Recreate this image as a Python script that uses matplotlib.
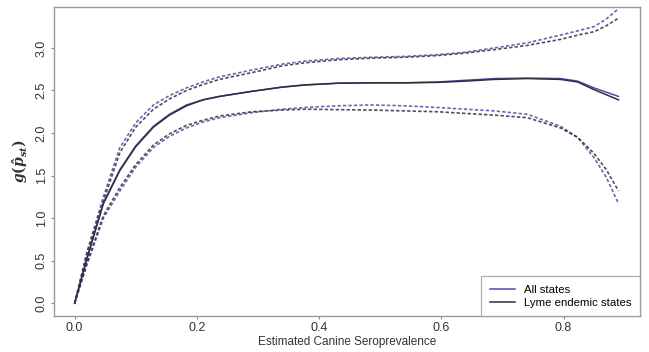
import matplotlib
matplotlib.use("Agg")
import matplotlib.pyplot as plt

plt.rcParams['font.family'] = ['Liberation Sans', 'DejaVu Sans']
plt.rcParams['mathtext.fontset'] = 'custom'
plt.rcParams['mathtext.it'] = 'DejaVu Serif:italic:bold'
plt.rcParams['mathtext.rm'] = 'DejaVu Serif:bold'

# estimated canine seroprevalence grid
x = [0, 0.02, 0.047, 0.074, 0.1, 0.129, 0.155, 0.183, 0.21, 0.237, 0.29, 0.34,
     0.377, 0.43, 0.486, 0.54, 0.594, 0.64, 0.687, 0.741, 0.795, 0.823, 0.85, 0.87, 0.89]

# fitted curves
fit_lyme = [0, 0.52, 1.17, 1.56, 1.84, 2.07, 2.21, 2.32, 2.39, 2.43, 2.49, 2.54,
            2.565, 2.585, 2.59, 2.59, 2.595, 2.61, 2.63, 2.64, 2.63, 2.60, 2.51, 2.45, 2.39]
fit_all = [0, 0.53, 1.18, 1.57, 1.85, 2.08, 2.22, 2.33, 2.39, 2.43, 2.49, 2.54,
           2.565, 2.585, 2.59, 2.59, 2.60, 2.62, 2.64, 2.645, 2.64, 2.61, 2.53, 2.48, 2.43]

# confidence bands
upper_all = [0, 0.6, 1.25, 1.83, 2.12, 2.33, 2.44, 2.53, 2.60, 2.66, 2.74, 2.81,
             2.845, 2.875, 2.89, 2.90, 2.92, 2.95, 3.00, 3.06, 3.15, 3.20, 3.25, 3.34, 3.46]
upper_lyme = [0, 0.58, 1.20, 1.77, 2.07, 2.28, 2.40, 2.50, 2.57, 2.63, 2.71, 2.79,
              2.825, 2.86, 2.88, 2.89, 2.91, 2.94, 2.98, 3.03, 3.10, 3.15, 3.19, 3.26, 3.35]
lower_all = [0, 0.45, 1.0, 1.32, 1.60, 1.83, 1.96, 2.06, 2.13, 2.18, 2.24, 2.28,
             2.30, 2.32, 2.33, 2.32, 2.30, 2.28, 2.26, 2.22, 2.08, 1.95, 1.71, 1.48, 1.17]
lower_lyme = [0, 0.47, 1.03, 1.36, 1.63, 1.86, 1.99, 2.09, 2.15, 2.20, 2.25, 2.27,
              2.28, 2.275, 2.27, 2.26, 2.25, 2.23, 2.21, 2.18, 2.06, 1.95, 1.76, 1.57, 1.32]

blue = '#4b4fa6'
dark = '#2e2e3c'
dash = (0, (2.0, 1.3))

fig = plt.figure(figsize=(6.49, 3.52), dpi=100)
ax = fig.add_axes([0.083, 0.102, 0.903, 0.878])

ax.plot(x, upper_all, color=blue, lw=1.2, linestyle=dash, alpha=0.85)
ax.plot(x, lower_all, color=blue, lw=1.2, linestyle=dash, alpha=0.85)
ax.plot(x, upper_lyme, color=dark, lw=1.2, linestyle=dash, alpha=0.85)
ax.plot(x, lower_lyme, color=dark, lw=1.2, linestyle=dash, alpha=0.85)
ax.plot(x, fit_all, color=blue, lw=1.1, label='All states')
ax.plot(x, fit_lyme, color=dark, lw=1.1, label='Lyme endemic states')

ax.set_xlim(-0.034, 0.925)
ax.set_ylim(-0.15, 3.48)
ax.set_xticks([0, 0.2, 0.4, 0.6, 0.8])
ax.set_xticklabels(['0.0', '0.2', '0.4', '0.6', '0.8'])
ax.set_yticks([0, 0.5, 1.0, 1.5, 2.0, 2.5, 3.0])
ax.set_yticklabels(['0.0', '0.5', '1.0', '1.5', '2.0', '2.5', '3.0'],
                   rotation=90, va='center')
ax.tick_params(direction='out', length=2.5, width=0.8, color='#888888', pad=2,
               labelsize=9, labelcolor='#333333')

for s in ax.spines.values():
    s.set_color('#999999')
    s.set_linewidth(1.0)

ax.set_xlabel('Estimated Canine Seroprevalence', fontsize=8.5, color='#333333', labelpad=1)
ax.set_ylabel(r'$g(\hat{p}_{st})$', fontsize=10, color='#333333', labelpad=4)

leg = ax.legend(loc='lower right', borderaxespad=0, fancybox=False, fontsize=8.2,
                edgecolor='#999999', handlelength=2.2, borderpad=0.75, labelspacing=0.25)
leg.get_frame().set_linewidth(0.9)

fig.savefig('out.png', dpi=100)
